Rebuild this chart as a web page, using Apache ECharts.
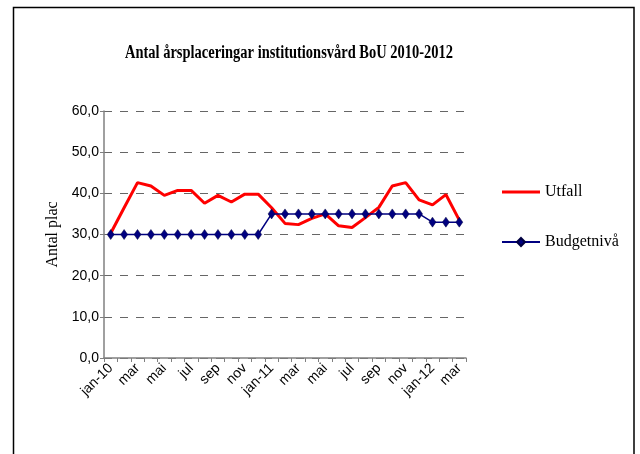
<!DOCTYPE html>
<html lang="sv">
<head>
    <meta charset="UTF-8">
    <title>Antal årsplaceringar</title>
    <script src="https://cdn.jsdelivr.net/npm/echarts@6/dist/echarts.min.js"></script>
    <style>
        html, body { margin: 0; padding: 0; background: #fff; }
    </style>
</head>
<body>
<div id="box" style="width: 640px;height: 454px;"></div>
<script>
    var months = ['jan-10','feb','mar','apr','mai','jun','jul','aug','sep','okt','nov','dec',
        'jan-11','feb','mar','apr','mai','jun','jul','aug','sep','okt','nov','dec',
        'jan-12','feb','mar'];
    var utfall = [30.3,36.5,42.6,41.8,39.5,40.7,40.7,37.6,39.5,37.9,39.8,39.8,
        36.5,32.7,32.4,33.9,35.0,32.1,31.7,34.1,36.6,41.8,42.6,38.4,
        37.2,39.7,33.5];
    var budget = [30,30,30,30,30,30,30,30,30,30,30,30,
        35,35,35,35,35,35,35,35,35,35,35,35,
        33,33,33];
    var titleText = 'Antal årsplaceringar institutionsvård BoU 2010-2012';

    // title is drawn squeezed, like the original
    var cv = document.createElement('canvas').getContext('2d');
    cv.font = 'bold 18px "Liberation Serif"';
    var titleScale = 328 / cv.measureText(titleText).width;

    var myChart = echarts.init(document.getElementById('box'));
    var option = {
        animation: false,
        backgroundColor: '#fff',
        graphic: [
            {
                type: 'rect',
                shape: { x: 13.5, y: 7.5, width: 620.5, height: 470 },
                style: { fill: 'none', stroke: '#000', lineWidth: 1.5 }
            },
            {
                type: 'text',
                x: 289, y: 53,
                scaleX: titleScale,
                style: {
                    text: titleText,
                    font: 'bold 18px "Liberation Serif"',
                    fill: '#000',
                    align: 'center',
                    verticalAlign: 'middle'
                }
            }
        ],
        legend: {
            orient: 'vertical',
            left: 496,
            top: 179,
            itemWidth: 38,
            itemHeight: 10,
            itemGap: 34,
            textStyle: { fontFamily: 'Liberation Serif', fontSize: 16, color: '#000' },
            data: [
                { name: 'Utfall', icon: 'path://M0 0H38V3H0Z' },
                'Budgetnivå'
            ]
        },
        grid: { left: 104, right: 174, top: 111, bottom: 96 },
        xAxis: {
            type: 'category',
            data: months,
            boundaryGap: true,
            axisLine: { lineStyle: { color: '#808080', width: 1.5 } },
            axisTick: { show: true, interval: 0, length: 4, lineStyle: { color: '#808080' } },
            axisLabel: {
                interval: 1,
                rotate: 45,
                color: '#000',
                fontFamily: 'Liberation Sans',
                fontSize: 14,
                margin: 8
            }
        },
        yAxis: {
            type: 'value',
            min: 0, max: 60, interval: 10,
            name: 'Antal plac',
            nameLocation: 'middle',
            nameGap: 37,
            nameTextStyle: { fontFamily: 'Liberation Serif', fontSize: 16, color: '#000' },
            axisLine: { show: true, lineStyle: { color: '#808080', width: 1.5 } },
            axisTick: { show: true, length: 4, lineStyle: { color: '#808080' } },
            axisLabel: {
                color: '#000',
                fontFamily: 'Liberation Sans',
                fontSize: 14,
                margin: 5,
                formatter: function (v) { return v.toFixed(1).replace('.', ','); }
            },
            splitLine: { lineStyle: { color: '#666', type: [8, 8], width: 1 } }
        },
        series: [
            {
                name: 'Utfall',
                type: 'line',
                data: utfall,
                symbol: 'none',
                itemStyle: { color: '#ff0000' },
                lineStyle: { color: '#ff0000', width: 3 }
            },
            {
                name: 'Budgetnivå',
                type: 'line',
                data: budget,
                showAllSymbol: true,
                symbol: 'diamond',
                symbolSize: [7, 10],
                itemStyle: { color: '#000080', borderColor: '#000040', borderWidth: 0.5 },
                lineStyle: { color: '#000080', width: 1.5 }
            }
        ]
    };
    myChart.setOption(option);
</script>
</body>
</html>
